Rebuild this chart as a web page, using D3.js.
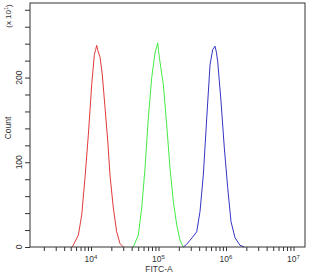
<!DOCTYPE html>
<html><head><meta charset="utf-8">
<script src="https://cdn.jsdelivr.net/npm/d3@7"></script>
<style>body{margin:0;background:#fff}svg{display:block}</style>
</head><body>
<script>
// FITC-A values and counts
const redX = [5280,6490,7280,8150,9120,10240,11200,11700,12150,12600,13600,14700,16100,17700,19100,21400,24000,26900,30100];
const redY = [0,14,38,82,132,192,227,233,238,232,224,203,165,125,85,46,18,4,0];
const greenX = [42300,50200,56400,63100,70600,79300,88700,93500,97300,100000,102800,108000,117800,132200,148000,165600,186200,208300,233000];
const greenY = [0,14,46,93,152,200,229,236,241,232,224,212,192,144,93,54,26,8,0];
const blueX = [233000,260000,293000,330000,368000,412000,461000,518000,580000,635000,687000,720000,753000,843000,944000,1059000,1186000,1358000,1611000,1866000];
const blueY = [0,3,8,13,18,42,85,152,215,233,237,230,219,172,117,70,30,11,2,0];
const xTickExp = [4,5,6,7];
const yTickLabels = [0,100,200];

const W=309,H=275, L=30, R=305, T=3, B=247;
const svg=d3.select("body").append("svg").attr("width",W).attr("height",H)
  .style("font-family","'Liberation Sans', Arial, sans-serif");

const x=d3.scaleLog().domain([1247,1.48e7]).range([L,R]);
const y=d3.scaleLinear().domain([0,288]).range([B,T]);

const series=[[redX,redY,"#e03a3a"],[greenX,greenY,"#44ea44"],[blueX,blueY,"#3434c4"]];
const line=d3.line().x(d=>x(d[0])).y(d=>y(d[1]));
series.forEach(([xs,ys,c])=>{
  svg.append("path").datum(xs.map((v,i)=>[v,ys[i]]))
    .attr("d",line).attr("fill","none").attr("stroke",c).attr("stroke-width",1);
});

// frame
svg.append("rect").attr("x",L).attr("y",T).attr("width",R-L).attr("height",B-T)
  .attr("fill","none").attr("stroke","#333").attr("stroke-width",1);

// x axis ticks
const minor=[];
for(let e=3;e<=7;e++) for(let m=1;m<10;m++){const v=m*Math.pow(10,e); if(v>=1247&&v<=1.48e7) minor.push(v);}
const xAxis=d3.axisBottom(x).tickValues(minor).tickSize(4).tickFormat("");
const gx=svg.append("g").attr("transform",`translate(0,${B})`).call(xAxis);
gx.select(".domain").remove();
gx.selectAll("line").attr("stroke","#333");
xTickExp.forEach(e=>{
  const t=svg.append("text").attr("x",x(Math.pow(10,e))).attr("y",B+15)
    .attr("text-anchor","middle").attr("font-size",8.5).attr("fill","#333");
  t.append("tspan").text("10");
  t.append("tspan").attr("dy",-3).attr("font-size",6).text(e);
});
svg.append("text").attr("x",159).attr("y",272).attr("text-anchor","middle")
  .attr("font-size",8.5).attr("fill","#333").text("FITC-A");

// y axis ticks
const yAxis=d3.axisLeft(y).tickValues(d3.range(0,281,20)).tickSize(5).tickFormat("");
const gy=svg.append("g").attr("transform",`translate(${L},0)`).call(yAxis);
gy.select(".domain").remove();
gy.selectAll("line").attr("stroke","#333");
yTickLabels.forEach(v=>{
  svg.append("text").attr("transform",`translate(${L-8},${y(v)}) rotate(-90)`)
    .attr("text-anchor","middle").attr("font-size",8.5).attr("fill","#333").text(v);
});
svg.append("text").attr("transform",`translate(11,128) rotate(-90)`)
  .attr("text-anchor","middle").attr("font-size",8.5).attr("fill","#333").text("Count");
const t2=svg.append("text").attr("transform",`translate(11,16) rotate(-90)`)
  .attr("text-anchor","middle").attr("font-size",8).attr("fill","#333");
t2.append("tspan").text("(x 10");
t2.append("tspan").attr("dy",-3).attr("font-size",5.5).text("1");
t2.append("tspan").attr("dy",3).text(")");
</script>
</body></html>
